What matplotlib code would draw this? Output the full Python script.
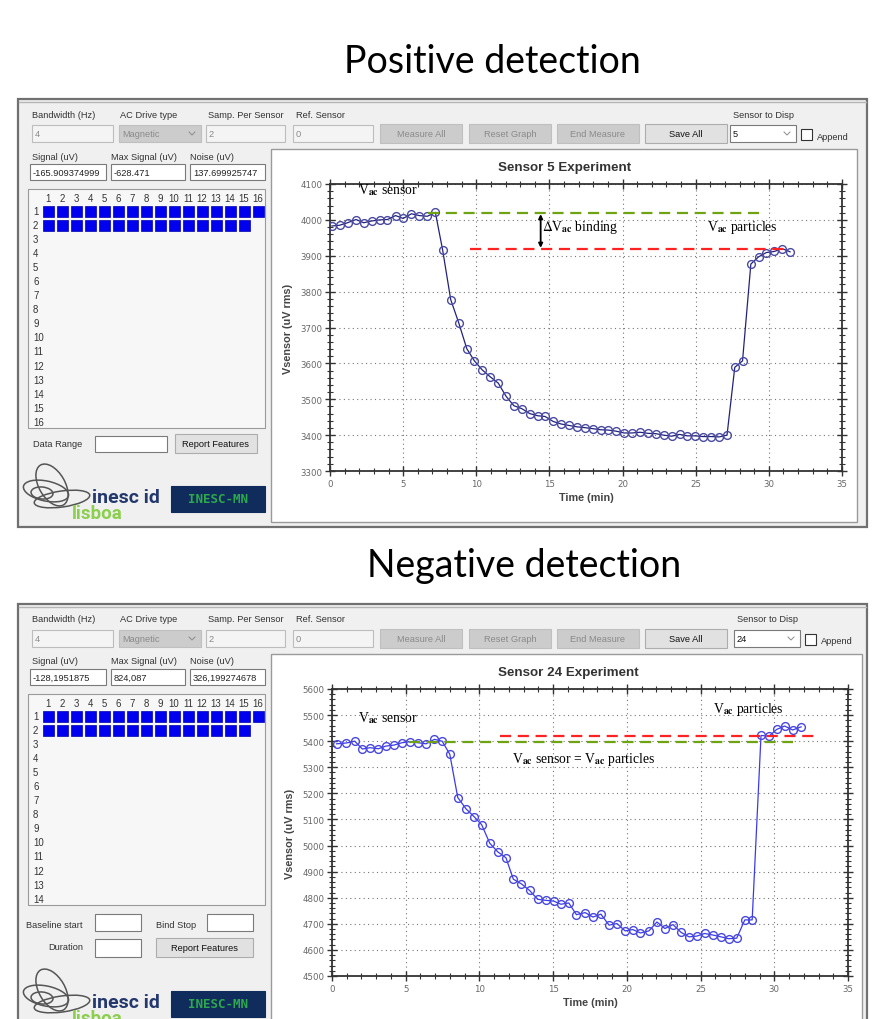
import matplotlib
matplotlib.use("Agg")
import matplotlib.pyplot as plt
from matplotlib.patches import Rectangle, Ellipse
from matplotlib.ticker import MultipleLocator

plt.rcParams["mathtext.fontset"] = "stix"

# ---------------- DATA ----------------
# Sensor 5 (positive detection)
pos_time = [0.13, 0.65, 1.2, 1.78, 2.3, 2.85, 3.4, 3.93, 4.48, 5.0, 5.57, 6.1, 6.65, 7.2,
            7.7, 8.25, 8.8, 9.35, 9.87, 10.4, 10.94, 11.5, 12.04, 12.57, 13.1, 13.66, 14.2,
            14.7, 15.26, 15.8, 16.33, 16.9, 17.4, 17.96, 18.5, 19.03, 19.56, 20.1, 20.65,
            21.2, 21.73, 22.28, 22.8, 23.35, 23.9, 24.42, 24.97, 25.5, 26.05, 26.6, 27.14,
            27.67, 28.2, 28.77, 29.3, 29.83, 30.38, 30.9, 31.45]
pos_vsensor = [3983, 3985, 3992, 4001, 3992, 3997, 4000, 4001, 4012, 4004, 4017, 4012, 4010, 4021,
               3916, 3778, 3713, 3641, 3607, 3582, 3563, 3545, 3508, 3482, 3474, 3460, 3454,
               3452, 3438, 3431, 3427, 3423, 3421, 3418, 3415, 3414, 3411, 3406, 3406,
               3408, 3405, 3404, 3400, 3397, 3402, 3398, 3398, 3396, 3396, 3395, 3400,
               3589, 3607, 3877, 3897, 3909, 3912, 3920, 3911]

# Sensor 24 (negative detection)
neg_time = [0.31, 0.96, 1.54, 2.06, 2.58, 3.15, 3.64, 4.2, 4.74, 5.28, 5.85, 6.38, 6.95, 7.47,
            7.99, 8.53, 9.1, 9.65, 10.15, 10.7, 11.24, 11.8, 12.3, 12.85, 13.4, 13.95, 14.5,
            15.04, 15.53, 16.06, 16.58, 17.17, 17.7, 18.24, 18.79, 19.33, 19.88, 20.4, 20.92,
            21.5, 22.04, 22.58, 23.13, 23.68, 24.22, 24.75, 25.27, 25.84, 26.39, 26.9, 27.45,
            28.0, 28.5, 29.1, 29.64, 30.16, 30.7, 31.25, 31.82]
neg_vsensor = [5390, 5393, 5400, 5370, 5375, 5371, 5381, 5385, 5394, 5398, 5394, 5390, 5407, 5400,
               5350, 5184, 5140, 5110, 5080, 5009, 4976, 4953, 4871, 4853, 4828, 4794, 4790,
               4787, 4775, 4780, 4735, 4743, 4726, 4737, 4695, 4701, 4673, 4678, 4665,
               4673, 4707, 4682, 4697, 4667, 4650, 4653, 4663, 4657, 4650, 4643, 4645,
               4715, 4715, 5422, 5419, 5445, 5458, 5443, 5455]

# reference levels drawn as dashed lines (level, x start, x end)
pos_sensor_line = (4020, 6.7, 29.3)
pos_particles_line = (3920, 9.6, 31.0)
neg_particles_line = (5418, 11.4, 33.0)
neg_sensor_line = (5395, 5.2, 31.3)

# GUI strings
pos_fields = ["-165.909374999", "-628.471", "137.699925747"]
neg_fields = ["-128,1951875", "824,087", "326,199274678"]
pos_sensor_disp = "5"
neg_sensor_disp = "24"

# ---------------- FIGURE ----------------
W, H = 873, 1020
fig = plt.figure(figsize=(W / 100, H / 100), dpi=100)
bg = fig.add_axes([0, 0, 1, 1])
bg.set_xlim(0, W)
bg.set_ylim(H, 0)
bg.axis("off")

UI = "Liberation Sans"
GREY_TXT = "#8a8a8a"


def box(x0, y0, x1, y1, fc="white", ec="#7a7a7a", lw=0.8, z=1):
    r = Rectangle((x0, y0), x1 - x0, y1 - y0, facecolor=fc, edgecolor=ec, lw=lw, zorder=z)
    bg.add_patch(r)
    return r


def label(x, y, s, color="#333333", size=6.7, ha="left", **kw):
    return bg.text(x, y, s, ha=ha, va="center", fontsize=size, color=color,
                   family=UI, zorder=5, **kw)


def textbox(x0, x1, y0, y1, s, enabled=True):
    r = box(x0, y0, x1, y1, fc="white" if enabled else "#f4f4f4",
            ec="#7a7a7a" if enabled else "#bdbdbd", z=3)
    t = label(x0 + 3, (y0 + y1) / 2, s, color="#222222" if enabled else GREY_TXT)
    t.set_clip_path(r)


def button(x0, x1, y0, y1, s, enabled=True):
    box(x0, y0, x1, y1, fc="#e1e1e1" if enabled else "#cccccc",
        ec="#adadad" if enabled else "#bfbfbf", z=3)
    label((x0 + x1) / 2, (y0 + y1) / 2, s, ha="center",
          color="#111111" if enabled else GREY_TXT)


def combo(x0, x1, y0, y1, s, enabled=True):
    box(x0, y0, x1, y1, fc="white" if enabled else "#cccccc",
        ec="#7a7a7a" if enabled else "#bfbfbf", z=3)
    label(x0 + 3, (y0 + y1) / 2, s, color="#111111" if enabled else GREY_TXT)
    cx, cy = x1 - 9, (y0 + y1) / 2
    bg.plot([cx - 3, cx, cx + 3], [cy - 1.5, cy + 1.5, cy - 1.5], color="#8a8a8a",
            lw=0.7, zorder=5)


def logos(y0):
    # loose orbit-like sketch of the inesc id emblem
    for (cx, cy, w, h, a) in [(46, y0 + 32, 46, 20, 12), (52, y0 + 26, 26, 46, -30),
                              (62, y0 + 40, 56, 16, -8), (42, y0 + 34, 22, 12, 5)]:
        bg.add_patch(Ellipse((cx, cy), w, h, angle=a, fill=False, ec="#555555",
                             lw=1.1, zorder=4))
    bg.text(92, y0 + 38, "inesc id", fontsize=14, weight="bold", color="#23386d",
            family="Roboto", va="center", zorder=6)
    bg.text(72, y0 + 54, "lisboa", fontsize=13.5, weight="bold", color="#8ccf4f",
            family="Roboto", va="center", zorder=5)
    box(171, y0 + 27, 265, y0 + 53, fc="#0f2c5c", ec="#0f2c5c", z=4)
    bg.text(218, y0 + 40, "INESC-MN", fontsize=9, weight="bold", color="#2ea84c",
            family="DejaVu Sans Mono", ha="center", va="center", zorder=6)


def window(y0, y1, fields, disp, nrows, shift, negative):
    box(18, y0, 867, y1, fc="#f0f0f0", ec="#707070", lw=1.6, z=0)
    bg.plot([19, 866], [y0 + 2.5, y0 + 2.5], color="#b5b5b5", lw=1.0, zorder=1)
    # first row
    for x, s in [(32, "Bandwidth (Hz)"), (120, "AC Drive type"), (208, "Samp. Per Sensor"),
                 (296, "Ref. Sensor"), (733 + shift, "Sensor to Disp")]:
        label(x, y0 + 15, s)
    textbox(32, 113, y0 + 26, y0 + 43, "4", enabled=False)
    combo(119, 201, y0 + 26, y0 + 43, "Magnetic", enabled=False)
    textbox(206, 285, y0 + 26, y0 + 43, "2", enabled=False)
    textbox(293, 373, y0 + 26, y0 + 43, "0", enabled=False)
    button(380, 462, y0 + 25, y0 + 44, "Measure All", enabled=False)
    button(469, 551, y0 + 25, y0 + 44, "Reset Graph", enabled=False)
    button(557, 639, y0 + 25, y0 + 44, "End Measure", enabled=False)
    button(645, 727, y0 + 25, y0 + 44, "Save All")
    combo(730 + shift, 796 + shift, y0 + 26, y0 + 43, disp)
    box(801 + shift, y0 + 30, 812 + shift, y0 + 41, fc="white", ec="#333333", z=3)
    label(817 + shift, y0 + 37, "Append")
    # second row
    for x, s in [(32, "Signal (uV)"), (111, "Max Signal (uV)"), (190, "Noise (uV)")]:
        label(x, y0 + 57, s)
    for (xa, xb), s in zip([(30, 106), (111, 185), (190, 265)], fields):
        textbox(xa, xb, y0 + 65, y0 + 81, s)
    # sensor map
    ytop = y0 + 90
    ybot = ytop + 14.05 * nrows + 14
    box(28, ytop, 265, ybot, fc="#f7f7f7", ec="#9a9a9a", z=2)
    for i in range(16):
        label(48 + 14 * i, y0 + 99, str(i + 1), ha="center", size=6.9)
    for j in range(nrows):
        label(33, y0 + 112 + 14.05 * j, str(j + 1), size=6.9)
    for j, ncol in enumerate([16, 15]):
        for i in range(ncol):
            box(43 + 14 * i, y0 + 107 + 14 * j, 53.5 + 14 * i, y0 + 117.5 + 14 * j,
                fc="#0000ee", ec="#0000aa", lw=0.5, z=4)
    # bottom controls
    if negative:
        label(26, y0 + 321, "Baseline start")
        textbox(95, 141, y0 + 310, y0 + 327, "")
        label(156, y0 + 321, "Bind Stop")
        textbox(207, 253, y0 + 310, y0 + 327, "")
        label(48, y0 + 343, "Duration")
        textbox(95, 141, y0 + 335, y0 + 353, "")
        button(156, 253, y0 + 334, y0 + 353, "Report Features")
    else:
        label(33, y0 + 345, "Data Range")
        textbox(95, 167, y0 + 337, y0 + 353, "")
        button(175, 257, y0 + 335, y0 + 354, "Report Features")
    logos(y0 + 360)


def chart(l, t, r, b, time, vs, ylo, yhi, lc, mc):
    ax = fig.add_axes([l / W, 1 - b / H, (r - l) / W, (b - t) / H])
    ax.set_facecolor("white")
    ax.plot(time, vs, "-", color=lc, lw=0.9, marker="o", ms=5.6, mfc="none",
            mec=mc, mew=1.0, zorder=3)
    ax.set_xlim(0, 35)
    ax.set_ylim(ylo, yhi)
    ax.xaxis.set_major_locator(MultipleLocator(5))
    ax.xaxis.set_minor_locator(MultipleLocator(1))
    ax.yaxis.set_major_locator(MultipleLocator(100))
    ax.yaxis.set_minor_locator(MultipleLocator(20))
    ax.grid(True, which="major", ls=(0, (1, 3)), color="#777777", lw=0.8)
    ax.tick_params(which="both", direction="inout", top=True, right=True,
                   labelsize=6.2, labelcolor="#666666", color="#333333", pad=2)
    ax.tick_params(which="major", length=7, width=1.0)
    ax.tick_params(which="minor", length=4, width=0.8)
    for s in ax.spines.values():
        s.set_color("#333333")
        s.set_linewidth(1.3)
    ax.set_xlabel("Time (min)", fontsize=7.8, weight="bold", color="#444444",
                  family=UI, labelpad=3)
    ax.set_ylabel("Vsensor (uV rms)", fontsize=7.8, weight="bold", color="#444444",
                  family=UI, labelpad=5)
    return ax


def dashed(ax, line, color):
    y, x0, x1 = line
    ax.plot([x0, x1], [y, y], color=color, lw=1.6, dashes=(5, 3), zorder=4)


SERIF = "Liberation Serif"
ANN = 9.8

# ---------------- TOP: POSITIVE ----------------
bg.text(492, 62, "Positive detection", fontsize=27, family="Lato", ha="center",
        va="center", color="black")
window(100, 528, pos_fields, pos_sensor_disp, 16, 0, False)
box(271, 150, 857, 523, fc="white", ec="#9a9a9a", lw=1.0, z=2)
bg.text(565, 168, "Sensor 5 Experiment", fontsize=9.6, weight="bold", family=UI,
        ha="center", va="center", color="#333333", zorder=5)
ax1 = chart(330, 185, 842, 472, pos_time, pos_vsensor, 3300, 4100, "#22227e", "#4a4aa0")
dashed(ax1, pos_sensor_line, "#6ea312")
dashed(ax1, pos_particles_line, "#ff2222")
ax1.annotate("", xy=(14.4, 3922), xytext=(14.4, 4016),
             arrowprops=dict(arrowstyle="<|-|>", lw=1.3, color="black",
                             mutation_scale=6, shrinkA=0, shrinkB=0))
ax1.text(1.9, 4086, r"V$_{\mathbf{ac}}$ sensor", fontsize=ANN, family=SERIF, va="center", zorder=6)
ax1.text(14.5, 3982, r"$\Delta$V$_{\mathbf{ac}}$ binding", fontsize=ANN, family=SERIF,
         va="center", zorder=6)
ax1.text(25.8, 3982, r"V$_{\mathbf{ac}}$ particles", fontsize=ANN, family=SERIF,
         va="center", zorder=6)

# ---------------- BOTTOM: NEGATIVE ----------------
bg.text(524, 566, "Negative detection", fontsize=27, family="Lato", ha="center",
        va="center", color="black")
window(605, 1030, neg_fields, neg_sensor_disp, 14, 4, True)
box(271, 655, 862, 1030, fc="white", ec="#9a9a9a", lw=1.0, z=2)
bg.text(568, 673, "Sensor 24 Experiment", fontsize=9.6, weight="bold", family=UI,
        ha="center", va="center", color="#333333", zorder=5)
ax2 = chart(332, 690, 848, 977, neg_time, neg_vsensor, 4500, 5600, "#3a3af0", "#4848dc")
dashed(ax2, neg_particles_line, "#ff2222")
dashed(ax2, neg_sensor_line, "#6ea312")
ax2.text(1.76, 5493, r"V$_{\mathbf{ac}}$ sensor", fontsize=ANN, family=SERIF, va="center", zorder=6)
ax2.text(12.2, 5332, r"V$_{\mathbf{ac}}$ sensor = V$_{\mathbf{ac}}$ particles", fontsize=ANN,
         family=SERIF, va="center", zorder=6)
ax2.text(25.85, 5527, r"V$_{\mathbf{ac}}$ particles", fontsize=ANN, family=SERIF,
         va="center", zorder=6)

fig.savefig("out.png", dpi=100, facecolor="white")
